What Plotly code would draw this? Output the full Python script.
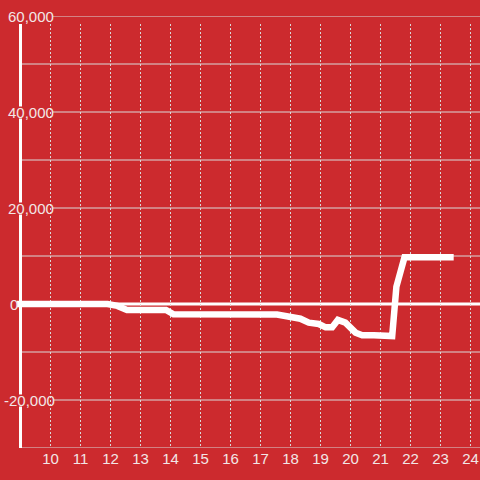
import plotly.graph_objects as go

# ---- data ----
x_vals = [8.883, 11.9, 12.23, 12.55, 13.85, 14.1, 17.55, 18.0, 18.33, 18.61,
          18.94, 19.17, 19.39, 19.58, 19.83, 20.17, 20.39, 20.78, 21.39, 21.53,
          21.8, 23.44]
y_vals = [0, 0, -400, -1250, -1250, -2150, -2200, -2780, -3060, -3890,
          -4170, -4860, -4860, -3330, -3890, -5970, -6530, -6530, -6670, 3600,
          9720, 9720]
x_ticks = list(range(10, 25))
y_major = [60000, 40000, 20000, -20000]
y_minor = [50000, 30000, 10000, -10000, -30000]
y_labels = {60000: "60,000", 40000: "40,000", 20000: "20,000", 0: "0", -20000: "-20,000"}

BG = "#cc2a2e"
GRID = "#d9d9d9"
TXT = "#f2e6e6"
FONT = "Liberation Sans, Arial, sans-serif"

W, H = 480, 480
L, R, T, B = 17, 0, 16, 32
PW = W - L - R
YMIN, YMAX = -30000, 60000
XMIN, XMAX = 8.883, 24.317


def px_to_paper(p):
    return (p - L) / PW


def py_to_y(p):
    return YMAX - (p - T) / (H - T - B) * (YMAX - YMIN)


fig = go.Figure()
fig.add_trace(go.Scatter(x=x_vals, y=y_vals, mode="lines",
                         line=dict(color="white", width=6.5), hoverinfo="skip"))

shapes = []
# vertical dotted grid
for xv in x_ticks:
    shapes.append(dict(type="line", xref="x", yref="y", x0=xv, x1=xv,
                       y0=py_to_y(24), y1=YMIN, layer="below",
                       line=dict(color=GRID, width=1, dash="2px,2px")))
# minor horizontal grid
for yv in y_minor:
    shapes.append(dict(type="line", xref="paper", yref="y", x0=px_to_paper(21), x1=1,
                       y0=yv, y1=yv, layer="below", line=dict(color=GRID, width=1)))
# major horizontal grid
for yv in y_major:
    shapes.append(dict(type="line", xref="paper", yref="y", x0=px_to_paper(53), x1=1,
                       y0=yv, y1=yv, layer="below", line=dict(color=GRID, width=1)))
# zero line
shapes.append(dict(type="line", xref="paper", yref="y", x0=0, x1=1, y0=0, y1=0,
                   layer="below", line=dict(color="white", width=3)))
# y axis line with gaps
segs = [(24, 106.5), (118.5, 202.5), (214.5, 394.5), (406.5, 449)]
for a, b in segs:
    shapes.append(dict(type="line", xref="paper", yref="y",
                       x0=px_to_paper(20.5), x1=px_to_paper(20.5),
                       y0=py_to_y(a), y1=py_to_y(b), layer="below",
                       line=dict(color="white", width=3)))

annotations = []
label_left = {60000: 6, 40000: 6, 20000: 6, 0: 8, -20000: 2}
for yv, txt in y_labels.items():
    annotations.append(dict(xref="paper", yref="y", x=px_to_paper(label_left[yv]), y=yv,
                            text=txt, showarrow=False, xanchor="left", yanchor="middle",
                            font=dict(size=15, color=TXT, family=FONT)))

fig.update_layout(
    width=W, height=H,
    margin=dict(l=L, r=R, t=T, b=B, pad=0, autoexpand=False),
    paper_bgcolor=BG, plot_bgcolor=BG,
    showlegend=False,
    shapes=shapes, annotations=annotations,
    xaxis=dict(range=[XMIN, XMAX], tickvals=x_ticks, ticktext=[str(v) for v in x_ticks],
               showgrid=False, zeroline=False, showline=False, ticks="", automargin=False,
               tickfont=dict(size=15, color=TXT, family=FONT)),
    yaxis=dict(range=[YMIN, YMAX], showgrid=False, zeroline=False, showline=False,
               showticklabels=False, ticks="", automargin=False),
)

fig.write_html("out.html", config={"displayModeBar": False},
               post_script="document.body.style.margin='0';document.body.style.overflow='hidden';")
